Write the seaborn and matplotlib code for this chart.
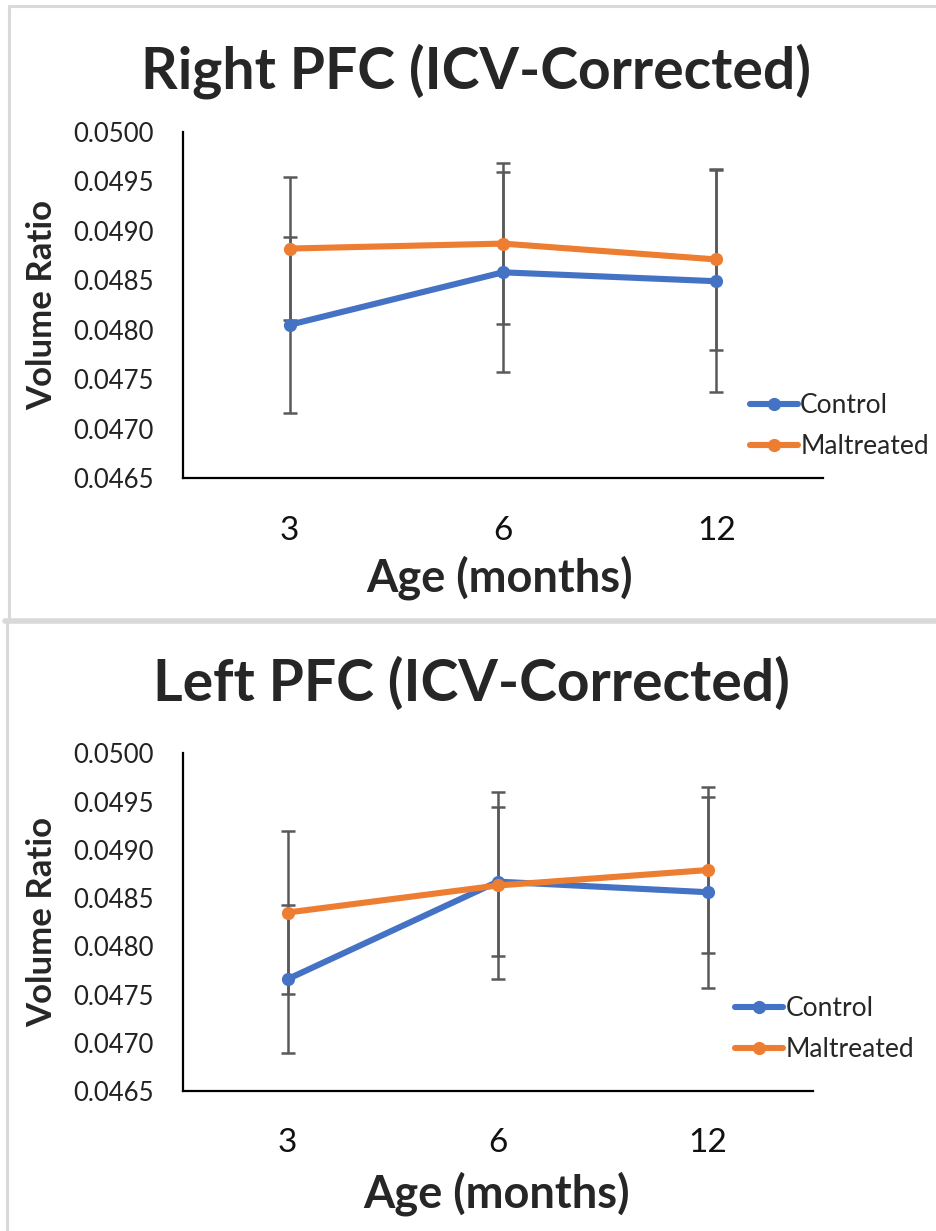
import numpy as np
import pandas as pd
import matplotlib
matplotlib.use("Agg")
import matplotlib.pyplot as plt
import seaborn as sns
from matplotlib.lines import Line2D

sns.set_theme(style="white")
plt.rcParams['font.family'] = ['Lato', 'DejaVu Sans']

# ---------------- data ----------------
ages = ["3", "6", "12"]
groups = ["Control", "Maltreated"]

right_control = [0.04805, 0.04858, 0.04849]
right_maltreated = [0.04882, 0.04887, 0.04871]
right_control_err = [0.00089, 0.00101, 0.00112]
right_maltreated_err = [0.00072, 0.00081, 0.00091]

left_control = [0.04766, 0.04867, 0.04856]
left_maltreated = [0.04835, 0.04863, 0.04879]
left_control_err = [0.00077, 0.00077, 0.00099]
left_maltreated_err = [0.00084, 0.00097, 0.00086]

titles = ["Right PFC (ICV-Corrected)", "Left PFC (ICV-Corrected)"]
y_ticks = [0.0465, 0.0470, 0.0475, 0.0480, 0.0485, 0.0490, 0.0495, 0.0500]

colors = {"Control": "#4472C4", "Maltreated": "#ED7D31"}
err_color = "#595959"

W, H = 937, 1231
fig = plt.figure(figsize=(W / 100, H / 100), dpi=100)


def fx(x):
    return x / W


def fy(y):
    return 1 - y / H


def make_panel(rect_px, ctrl, mal, ctrl_err, mal_err, title, title_xy,
               xlabel_xy, ylabel_xy, legend_anchor):
    x0, y0, x1, y1 = rect_px
    ax = fig.add_axes([fx(x0), fy(y1), (x1 - x0) / W, (y1 - y0) / H])
    pos = np.arange(len(ages))
    df = pd.DataFrame({
        "pos": np.concatenate([pos, pos]),
        "value": ctrl + mal,
        "group": [groups[0]] * len(ages) + [groups[1]] * len(ages),
    })
    # error bars (behind lines)
    for vals, errs in ((mal, mal_err), (ctrl, ctrl_err)):
        ax.errorbar(pos, vals, yerr=errs, fmt="none", ecolor=err_color,
                    elinewidth=1.8, capsize=5, capthick=1.8, zorder=1)
    sns.lineplot(data=df, x="pos", y="value", hue="group", palette=colors,
                 marker="o", markersize=9.5, markeredgewidth=0, linewidth=4.4,
                 ax=ax, legend=False, zorder=3)
    ax.set_xlim(-0.5, len(ages) - 0.5)
    ax.set_ylim(y_ticks[0], y_ticks[-1])
    ax.set_yticks(y_ticks)
    ax.set_yticklabels([f"{t:.4f}" for t in y_ticks], fontsize=18.5,
                       color="#222222")
    ax.set_xticks(list(pos) + [len(ages) - 0.5])
    ax.set_xticklabels(ages + [""], fontsize=24, color="#111111")
    ax.tick_params(axis="y", direction="in", length=6, width=1.6, pad=21,
                   color="black")
    ax.tick_params(axis="x", direction="in", length=7.5, width=1.6, pad=27,
                   color="black")
    for s in ["top", "right"]:
        ax.spines[s].set_visible(False)
    for s in ["left", "bottom"]:
        ax.spines[s].set_linewidth(1.6)
        ax.spines[s].set_color("black")
    ax.set_xlabel("")
    ax.set_ylabel("")
    ax.grid(False)

    fig.text(fx(title_xy[0]), fy(title_xy[1]), title, fontsize=41,
             fontweight="bold", ha="center", va="center")
    fig.text(fx(xlabel_xy[0]), fy(xlabel_xy[1]), "Age (months)", fontsize=32.5,
             fontweight="bold", ha="center", va="center")
    fig.text(fx(ylabel_xy[0]), fy(ylabel_xy[1]), "Volume Ratio", fontsize=25,
             fontweight="bold", ha="center", va="center", rotation=90)

    handles = [Line2D([0], [0], color=colors[g], lw=4.4, marker="o",
                      markersize=9.5, markeredgewidth=0) for g in groups]
    ax.legend(handles, groups, loc="center left", bbox_to_anchor=legend_anchor,
              frameon=False, fontsize=19, handlelength=1.8,
              handletextpad=0.1, labelspacing=0.6, borderpad=0,
              borderaxespad=0)
    return ax


ax1 = make_panel((183, 131.7, 823, 478.3), right_control, right_maltreated,
                 right_control_err, right_maltreated_err, titles[0],
                 (476, 71), (500, 578), (42, 305), (0.886, 0.151))
ax2 = make_panel((182.7, 753.3, 813, 1091), left_control, left_maltreated,
                 left_control_err, left_maltreated_err, titles[1],
                 (471, 684), (497, 1194), (42, 922), (0.877, 0.184))

# chart-area borders
border = "#d9d9d9"
fig.add_artist(Line2D([fx(9), fx(9)], [fy(6), fy(619)], color=border, lw=2.2))
fig.add_artist(Line2D([fx(9), fx(937)], [fy(6), fy(6)], color=border, lw=2.2))
fig.add_artist(Line2D([fx(5), fx(937)], [fy(620.5), fy(620.5)], color=border,
                      lw=4))
fig.add_artist(Line2D([fx(7), fx(7)], [fy(622), fy(1231)], color=border,
                      lw=2.2))

fig.savefig("out.png", dpi=100)
